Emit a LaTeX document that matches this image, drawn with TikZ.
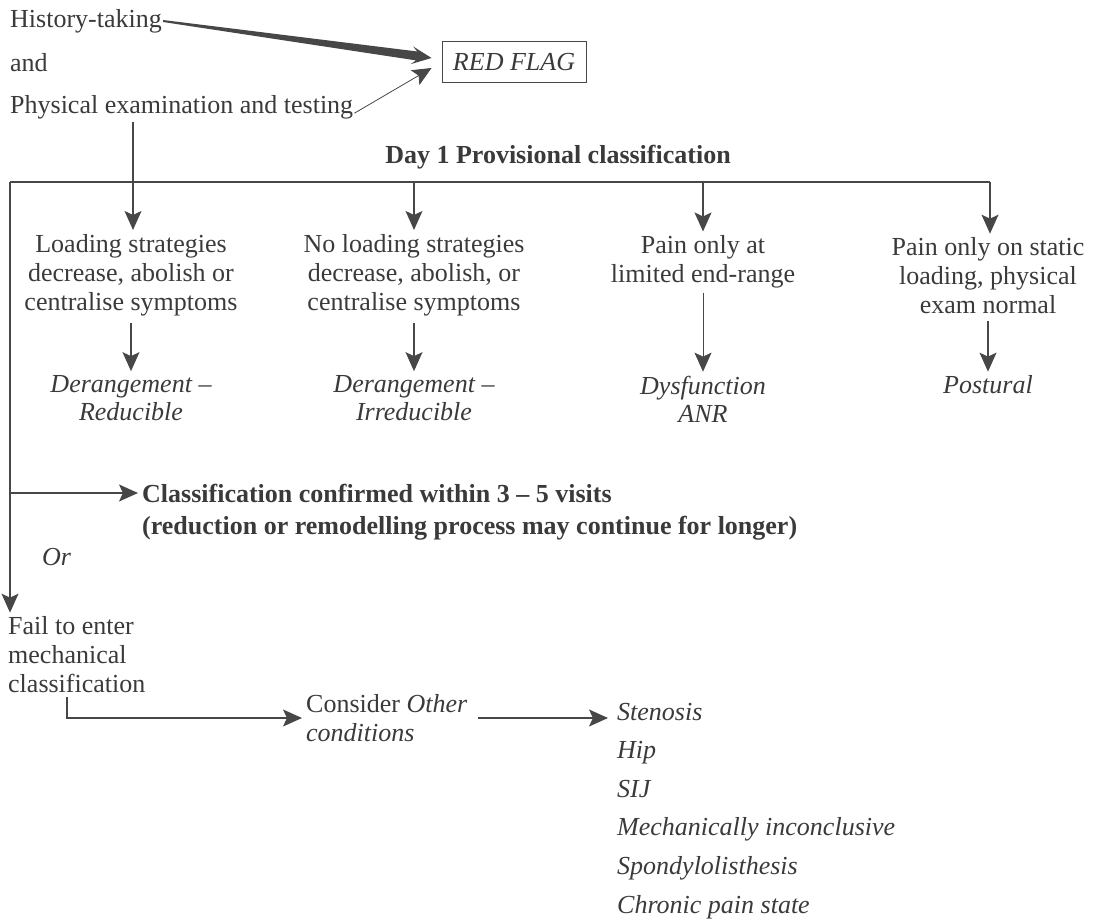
\documentclass[tikz,border=0pt]{standalone}
\usepackage{fontspec}
\setmainfont{Liberation Serif}
\usetikzlibrary{arrows.meta,calc}
\definecolor{ink}{HTML}{3A3A3A}
\definecolor{wire}{HTML}{474747}
\begin{document}
\begin{tikzpicture}[
            x = 1pt, y = -1pt,
            every node/.style={text=ink, inner sep=4pt, font=\fontsize{26}{29}\selectfont},
            line/.style={draw=wire, line width=1.1pt},
            arrow/.style={line, -{Stealth[length=19pt, width=17pt, inset=4pt]}},
            thinarrow/.style={arrow, line width=.6pt},
            col/.style={align=center},
            result/.style={align=center, font=\fontsize{26}{28}\selectfont\itshape},
            item/.style={anchor=base west, font=\fontsize{26}{29}\selectfont\itshape},
            bold/.style={font=\fontsize{26}{29}\selectfont\bfseries},
            ]
    \useasboundingbox (0,0) rectangle (1097,920);

    % assessment and red flag
    \node[anchor=west, inner sep=1pt] (hist) at (9,21) {History-taking};
    \node[anchor=west] (and) at (6,63) {and};
    \node[anchor=west, inner sep=1pt] (phys) at (9,107) {Physical examination and testing};
    \node[draw=wire, line width=.9pt, minimum width=144pt, minimum height=41pt, font=\fontsize{26}{29}\selectfont\itshape] (flag) at (514,62) {RED FLAG};

    \coordinate (ht) at ($(flag.west)+(-10,-4)$);
    \coordinate (hb) at ($(ht)!15pt!(hist.east)$);
    \coordinate (hw) at ($(ht)!20pt!(hist.east)$);
    \fill[wire] ($(hist.east)!1pt!90:(ht)$) -- ($(hb)!4.5pt!90:(ht)$) -- ($(hw)!9pt!90:(ht)$) -- (ht) -- ($(hw)!9pt!-90:(ht)$) -- ($(hb)!4.5pt!-90:(ht)$) -- ($(hist.east)!1pt!-90:(ht)$) -- cycle;
    \draw[arrow, line width=.8pt] (phys.base east) -- ($(flag.west)+(-10,6)$);

    % day 1
    \node[bold] (day) at (558,157) {Day 1 Provisional classification};
    \coordinate (tl) at (10,182);
    \coordinate (tr) at (990,182);
    \coordinate (drop) at (133,122);

    \node[col] (c1) at (131,275) {Loading strategies\\decrease, abolish or\\centralise symptoms};
    \node[col] (c2) at (414,275) {No loading strategies\\decrease, abolish, or\\centralise symptoms};
    \node[col] (c3) at (703,262) {Pain only at\\limited end-range};
    \node[col] (c4) at (988,276) {Pain only on static\\loading, physical\\exam normal};

    \node[result] (r1) at (131,398) {Derangement --\\Reducible};
    \node[result] (r2) at (414,398) {Derangement --\\Irreducible};
    \node[result] (r3) at (703,399) {Dysfunction\\ANR};
    \node[result] (r4) at (988,385) {Postural};

    \draw[line] (tl) -- (tr);
    \draw[arrow] (drop) -- (drop |- c1.north);
    \draw[arrow] (c2.north |- tl) -- (c2.north);
    \draw[arrow] (c3.north |- tl) -- (c3.north);
    \draw[arrow] (tr) -- (tr |- c4.north);

    \draw[arrow, shorten <=3pt] (c1.south) -- (r1.north);
    \draw[arrow, shorten <=3pt] (c2.south) -- (r2.north);
    \draw[thinarrow] (c3.south) -- (r3.north);
    \draw[arrow, shorten <=3pt] (c4.south) -- (r4.north);

    % later visits
    \node[bold, anchor=west] (conf) at (138,493) {Classification confirmed within 3 -- 5 visits};
    \node[bold, anchor=west] (conf2) at (138,528) {(reduction or remodelling process may continue for longer)};
    \node[anchor=west, font=\fontsize{26}{29}\selectfont\itshape] (or) at (38,557) {Or};
    \node[anchor=west, align=left] (fail) at (4,655) {Fail to enter\\mechanical\\classification};

    \draw[arrow] (tl |- conf) -- (conf.west);
    \draw[arrow] (tl) -- (tl |- fail.north);

    % other conditions
    \node[anchor=west, align=left] (other) at (302,718) {Consider \textit{Other}\\\textit{conditions}};
    \coordinate (elb) at (67,697);
    \draw[arrow] (elb) |- (other.west);

    \foreach \txt [count=\i] in {Stenosis, Hip, SIJ, Mechanically inconclusive, Spondylolisthesis, Chronic pain state}
        \node[item] (it\i) at (613,{720+38.6*(\i-1)}) {\txt};

    \draw[arrow, shorten <=6pt, shorten >=5pt] (other.east) -- (other.east -| it1.west);

\end{tikzpicture}
\end{document}
